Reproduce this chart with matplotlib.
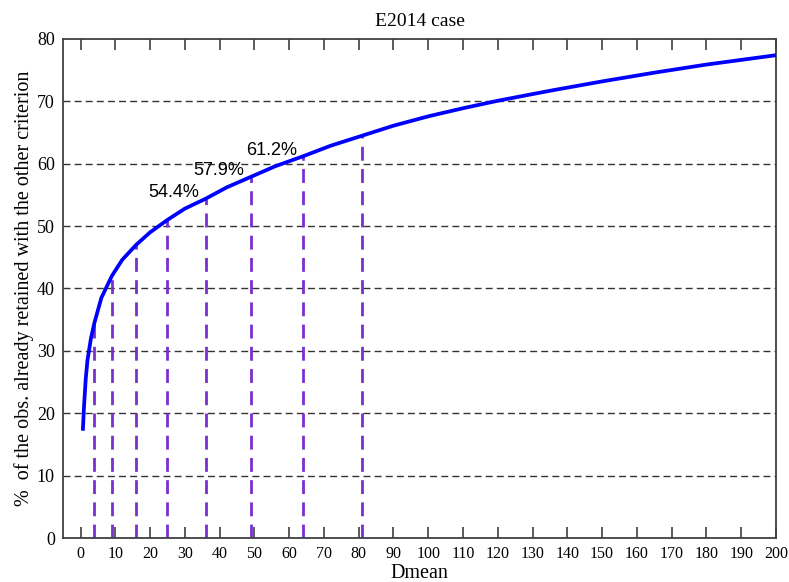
import numpy as np
import matplotlib
matplotlib.use('Agg')
import matplotlib.pyplot as plt

# curve
dmean = [0.7, 1, 1.5, 2, 3, 4, 6, 9, 12, 16, 20, 25, 30, 36, 42, 49, 56, 64,
         72, 81, 90, 100, 110, 120, 135, 150, 165, 180, 200]
pct = [17.5, 21.0, 25.5, 28.5, 32.0, 34.5, 38.5, 42.0, 44.6, 47.0, 49.0, 51.0,
       52.8, 54.4, 56.2, 57.9, 59.6, 61.2, 62.9, 64.5, 66.1, 67.6, 68.9, 70.1,
       71.7, 73.2, 74.6, 75.9, 77.4]

# marked Dmean values (squares) and their heights
marks_x = [4, 9, 16, 25, 36, 49, 64, 81]
marks_y = [34.5, 42.0, 47.0, 51.0, 54.4, 57.9, 61.2, 64.5]
labelled = [36, 49, 64]
label_txt = ['54.4%', '57.9%', '61.2%']

serif = ['Liberation Serif', 'DejaVu Serif']

fig = plt.figure(figsize=(7.89, 5.82), dpi=100)
ax = fig.add_axes([0.080, 0.0756, 0.9035, 0.8574])

for yv in range(10, 80, 10):
    ax.axhline(yv, color='#333333', lw=1.0, ls=(0, (5, 3)), zorder=1)

ax.plot(dmean, pct, color='#0000ff', lw=2.7, zorder=3, solid_joinstyle='round')

for xv, yv in zip(marks_x, marks_y):
    ax.plot([xv, xv], [0, yv], color='#7a2fcf', lw=2.0, dashes=(5, 3), zorder=2)

for xv, txt in zip(labelled, label_txt):
    yv = marks_y[marks_x.index(xv)]
    ax.text(xv - 1.8, yv - 0.4, txt, ha='right', va='bottom', fontsize=13,
            family=['Liberation Sans', 'DejaVu Sans'])

ax.set_xlim(-5, 200)
ax.set_ylim(0, 80)
ax.set_xticks(np.arange(0, 201, 10))
ax.set_yticks(np.arange(0, 81, 10))

ax.tick_params(axis='x', direction='in', length=8, width=1.2, color='#404040',
               top=True, labelsize=11.5, pad=6)
ax.tick_params(axis='y', length=0, labelsize=13, pad=6)
for lab in ax.get_xticklabels() + ax.get_yticklabels():
    lab.set_family(serif)

for s in ax.spines.values():
    s.set_color('#404040')
    s.set_linewidth(1.3)

ax.set_title('E2014 case', fontsize=14, family=serif, pad=9)
ax.set_xlabel('Dmean', fontsize=14.5, family=serif, labelpad=1)
ax.set_ylabel('%  of the obs. already retained with the other criterion',
              fontsize=14.5, family=serif, labelpad=2)

fig.savefig('out.png', dpi=100)
